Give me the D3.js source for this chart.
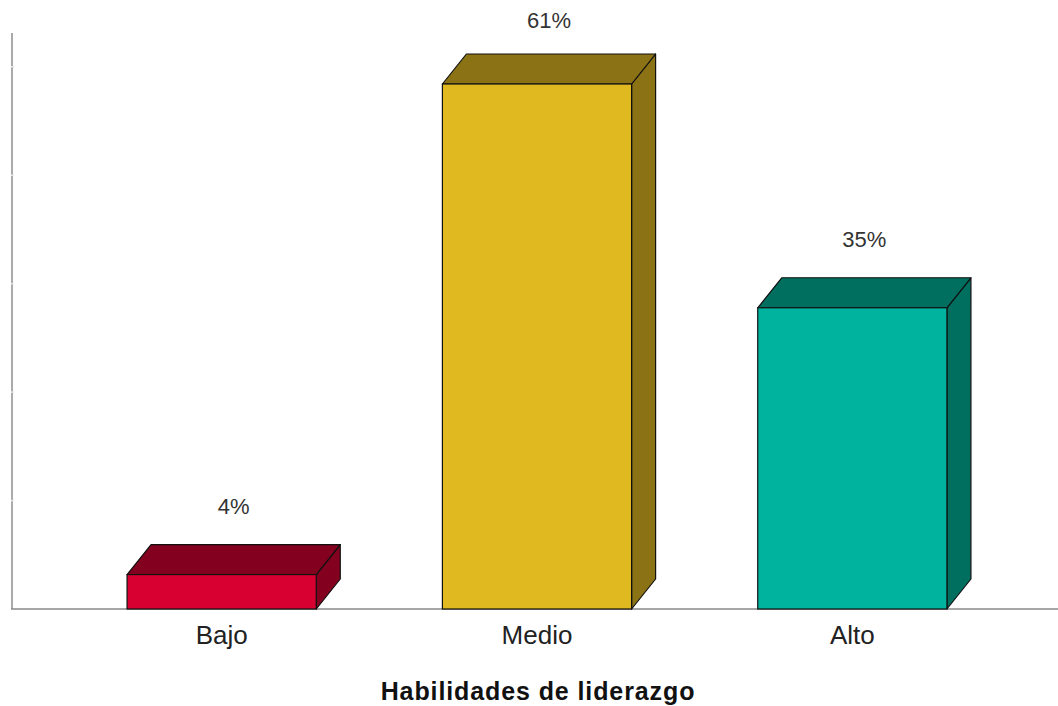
<!DOCTYPE html>
<html>
<head>
<meta charset="utf-8">
<script src="https://cdn.jsdelivr.net/npm/d3@7"></script>
<style>
  html, body { margin: 0; padding: 0; background: #fff; }
  svg { display: block; font-family: "Liberation Sans", Arial, sans-serif; }
</style>
</head>
<body>
<svg id="chart" width="1058" height="706"></svg>
<script>
// Leadership skill levels (percent of respondents)
const categories = ["Bajo", "Medio", "Alto"];
const values = [4, 61, 35];
const frontColors = ["#d70030", "#e0b81f", "#00b39e"];
const sideColors = ["#84001f", "#8a7215", "#006f5f"];
const tickValues = [12.6, 25.2, 37.8, 50.4, 63];
const axisTitle = "Habilidades de liderazgo";

const svg = d3.select("#chart");
const W = 1058;
const base = 609;
const depthX = 24, depthY = 30;

const x = d3.scaleBand().domain(categories).range([64, 1010]).paddingInner(0.4).paddingOuter(0.2);
const y = d3.scaleLinear().domain([0, 61]).range([base, 84]);

// value axis line with faint tick notches
svg.append("line").attr("x1", 12).attr("x2", 12).attr("y1", 33).attr("y2", base)
  .attr("stroke", "#aaa").attr("stroke-width", 2);
svg.selectAll("line.tick").data(tickValues).join("line").attr("class", "tick")
  .attr("x1", 11).attr("x2", 14).attr("y1", d => y(d)).attr("y2", d => y(d))
  .attr("stroke", "#e6e6e6").attr("stroke-width", 1.5);

// category axis baseline
svg.append("line").attr("x1", 11).attr("x2", W).attr("y1", base).attr("y2", base)
  .attr("stroke", "#888").attr("stroke-width", 1.5);

const bars = svg.selectAll("g.bar").data(categories).join("g").attr("class", "bar");

bars.each(function(c, i) {
  const g = d3.select(this);
  const x0 = x(c), x1 = x(c) + x.bandwidth();
  const yt = y(values[i]);
  // side face
  g.append("path")
    .attr("d", `M${x1},${base}L${x1},${yt}L${x1 + depthX},${yt - depthY}L${x1 + depthX},${base - depthY}Z`)
    .attr("fill", sideColors[i]).attr("stroke", "#111").attr("stroke-width", 1.2).attr("stroke-linejoin", "round");
  // top face
  g.append("path")
    .attr("d", `M${x0},${yt}L${x0 + depthX},${yt - depthY}L${x1 + depthX},${yt - depthY}L${x1},${yt}Z`)
    .attr("fill", sideColors[i]).attr("stroke", "#111").attr("stroke-width", 1.2).attr("stroke-linejoin", "round");
  // front face
  g.append("rect")
    .attr("x", x0).attr("y", yt).attr("width", x.bandwidth()).attr("height", base - yt)
    .attr("fill", frontColors[i]).attr("stroke", "#111").attr("stroke-width", 1.2);
  // value label
  g.append("text")
    .attr("x", x0 + x.bandwidth() / 2 + depthX / 2).attr("y", Math.max(28, yt - depthY - 31))
    .attr("text-anchor", "middle").attr("font-size", 22).attr("fill", "#333")
    .text(values[i] + "%");
});

// category labels
svg.selectAll("text.cat").data(categories).join("text").attr("class", "cat")
  .attr("x", d => x(d) + x.bandwidth() / 2).attr("y", 644)
  .attr("text-anchor", "middle").attr("font-size", 26).attr("fill", "#222")
  .text(d => d);

// axis title
svg.append("text").attr("x", 538).attr("y", 700)
  .attr("text-anchor", "middle").attr("font-size", 25).attr("font-weight", "bold").attr("fill", "#111")
  .attr("letter-spacing", 0.9)
  .text(axisTitle);
</script>
</body>
</html>
